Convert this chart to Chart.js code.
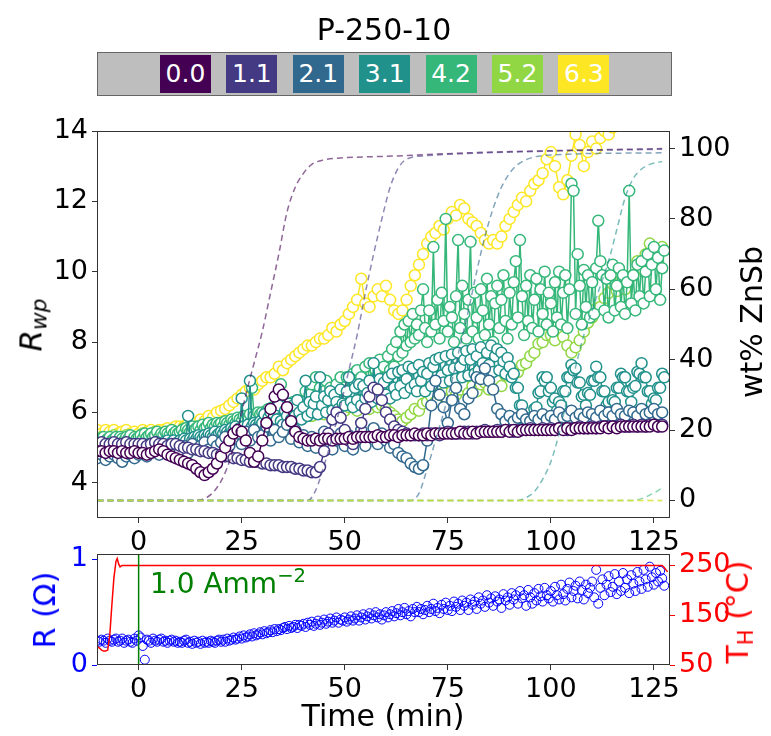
<!DOCTYPE html>
<html>
<head>
<meta charset="utf-8">
<title>P-250-10</title>
<script src="https://cdn.jsdelivr.net/npm/chart.js@4.4.0/dist/chart.umd.min.js"></script>
<style>
  body { margin: 0; background: #fff; font-family: 'DejaVu Sans', sans-serif; }
  #wrap { position: relative; width: 771px; height: 736px; overflow: hidden; }
  canvas { position: absolute; left: 0; }
  .lbl { position: absolute; white-space: nowrap; line-height: 1; }
  .ctr { transform: translate(-50%, -50%); }
  .rot { transform: translate(-50%, -50%) rotate(-90deg); }
  #bar { position: absolute; left: 97px; top: 52px; width: 575px; height: 44px;
         box-sizing: border-box; background: #bebebe; border: 1.5px solid #666; }
  .box { position: absolute; top: 2px; height: 38px; width: 51px; color: #fff;
         font-size: 25px; line-height: 38px; text-align: center; }
  sub { font-size: 70%; vertical-align: -0.25em; }
  sup { font-size: 70%; vertical-align: 0.55em; }
</style>
</head>
<body>
<div id="wrap">
  <canvas id="rwpChart" width="771" height="560" style="top:0"></canvas>
  <canvas id="resChart" width="771" height="236" style="top:500px"></canvas>

  <div class="lbl ctr" style="left:384px; top:30px; font-size:30px;">P-250-10</div>
  <div id="bar"></div>

  <div class="lbl rot" style="left:33px; top:325px; font-size:31px;"><i>R</i><sub><i>wp</i></sub></div>
  <div class="lbl rot" style="left:752px; top:322px; font-size:30px;">wt% ZnSb</div>
  <div class="lbl rot" style="left:45px; top:610px; font-size:30px; color:#0000ff;">R (Ω)</div>
  <div class="lbl rot" style="left:740px; top:612px; font-size:30px; color:#ff0000;">T<sub>H</sub> (°C)</div>
  <div class="lbl ctr" style="left:383px; top:716px; font-size:30px;">Time (min)</div>
  <div class="lbl" style="left:150px; top:566px; font-size:28px; color:#008000;">1.0 Amm<sup>−2</sup></div>
</div>

<script>
// probe positions (mm) and their viridis colours
var probePos = ['0.0', '1.1', '2.1', '3.1', '4.2', '5.2', '6.3'];
var probeColors = ['#440154', '#443983', '#31688e', '#21918c', '#35b779', '#90d743', '#fde725'];

// Rwp from -10 min; most probes once a minute, 3.1 and 4.2 every half minute
var rwpStart = -10;
var rwpSteps = [1, 1, 1, 0.5, 0.5, 1, 1];
var rwp00 = [4.9,4.9,4.85,4.9,4.9,4.85,4.9,4.85,4.85,4.9,
  4.85,4.85,4.8,4.85,4.9,4.95,4.9,4.8,4.75,4.7,
  4.65,4.6,4.55,4.5,4.4,4.3,4.22,4.3,4.4,4.55,
  4.75,5.0,5.2,5.4,5.5,5.45,5.2,4.85,4.6,4.75,
  5.2,5.7,6.1,6.45,6.65,6.5,6.15,5.75,5.45,5.3,
  5.25,5.2,5.2,5.25,5.2,5.25,5.25,5.2,5.25,5.25,
  5.25,5.3,5.25,5.3,5.3,5.3,5.3,5.3,5.35,5.3,
  5.3,5.35,5.35,5.3,5.35,5.35,5.35,5.4,5.35,5.35,
  5.4,5.35,5.4,5.4,5.4,5.4,5.4,5.4,5.45,5.4,
  5.4,5.45,5.4,5.45,5.45,5.45,5.45,5.45,5.45,5.5,
  5.45,5.5,5.45,5.5,5.5,5.5,5.5,5.5,5.5,5.5,
  5.5,5.5,5.55,5.5,5.55,5.5,5.55,5.55,5.55,5.55,
  5.55,5.55,5.55,5.6,5.55,5.6,5.55,5.6,5.6,5.6,
  5.6,5.6,5.6,5.6,5.6,5.65,5.6,5.6];
var rwp11 = [5.1,5.15,5.1,5.1,5.15,5.1,5.1,5.15,5.1,5.1,
  5.1,5.1,5.05,5.1,5.15,5.1,5.1,5.05,5.1,5.1,
  5.05,5.0,5.0,4.95,4.95,4.9,4.9,4.85,4.85,4.8,
  4.8,4.75,4.75,4.7,4.7,4.65,4.65,4.6,4.6,4.6,
  4.55,4.55,4.5,4.5,4.5,4.45,4.45,4.45,4.4,4.4,
  4.35,4.35,4.3,4.3,4.45,4.9,5.4,5.8,6.0,5.85,
  5.5,5.2,5.1,5.3,5.7,6.1,6.45,6.7,6.65,6.35,
  6.0,5.8,5.6,5.5,5.45,5.4,5.35,5.35,5.35,5.4,
  5.35,5.4,5.4,5.35,5.4,5.45,5.4,5.4,5.4,5.45,
  5.45,5.4,5.45,5.45,5.5,5.45,5.45,5.5,5.45,5.5,
  5.5,5.45,5.5,5.5,5.5,5.55,5.5,5.5,5.55,5.5,
  5.55,5.5,5.55,5.55,5.5,5.55,5.55,5.6,5.55,5.55,
  5.6,5.55,5.6,5.6,5.6,5.6,5.6,5.65,5.6,5.6,
  5.65,5.6,5.65,5.6,5.65,5.65,5.6,5.65];
var rwp21 = [4.7,4.8,4.65,4.75,4.8,4.7,4.6,4.75,4.8,4.7,
  4.8,4.9,4.75,4.85,4.95,4.8,4.9,5.0,4.85,4.95,
  4.9,5.05,4.85,5.1,4.95,5.05,5.15,4.95,5.2,5.05,
  5.15,5.3,5.05,5.25,5.4,5.1,5.45,5.2,5.5,5.3,
  5.35,5.6,5.2,5.5,5.3,5.45,5.65,5.25,5.5,5.15,
  5.35,5.05,5.3,5.0,5.25,5.45,5.1,4.95,5.2,5.4,
  5.05,5.35,4.95,5.2,5.5,5.05,5.3,5.55,5.1,5.4,
  5.2,5.0,5.1,4.85,4.75,4.7,4.55,4.45,4.4,4.5,
  5.2,6.2,6.9,6.5,6.15,5.7,6.35,6.7,6.1,5.95,
  6.4,6.55,7.0,6.95,7.25,6.9,6.65,6.1,5.95,5.75,
  5.9,5.75,5.85,5.95,5.8,5.75,5.9,5.8,5.95,5.8,
  5.9,5.8,6.0,5.85,5.9,6.05,5.85,5.95,5.85,6.0,
  5.95,5.85,6.05,5.9,6.0,5.9,6.1,5.95,5.9,6.05,
  6.0,5.9,6.1,5.95,6.0,6.1,5.95,6.0];
var rwp31 = [5.0,5.05,4.95,5.0,5.05,5.0,4.95,5.05,5.0,4.95,5.0,5.05,5.0,4.95,5.0,5.05,5.0,4.95,5.0,5.05,
  5.0,5.05,5.1,5.0,5.05,5.1,5.05,5.0,5.1,5.15,5.05,5.1,5.15,5.1,5.2,5.1,5.15,5.2,5.1,5.15,
  5.2,5.15,5.25,5.2,5.9,5.25,5.2,5.3,5.25,5.35,5.3,5.25,5.35,5.3,5.4,5.35,5.3,5.45,5.35,5.4,
  5.45,5.4,5.5,5.45,5.4,5.55,5.5,5.6,5.45,5.55,6.4,5.6,5.5,5.65,6.9,5.6,5.7,5.65,5.6,5.75,
  5.7,5.95,5.55,5.85,6.0,5.6,6.1,5.8,6.2,5.75,5.65,6.05,5.9,6.25,5.8,6.2,5.9,6.35,6.0,5.8,
  6.15,6.9,5.9,6.3,6.0,6.25,6.45,5.95,7.0,6.2,6.45,6.0,6.35,6.6,6.05,6.5,6.3,6.1,6.65,6.25,
  6.2,6.6,7.0,6.3,6.15,6.7,6.35,6.8,6.2,6.75,6.4,6.55,6.9,6.3,7.4,6.65,6.4,6.95,6.5,6.85,
  6.5,7.0,6.4,7.1,6.7,6.5,7.15,6.75,7.2,6.55,6.95,7.3,6.7,7.25,6.8,6.6,7.35,6.9,7.15,6.6,
  7.1,7.4,6.75,7.3,7.5,6.9,7.55,7.05,6.85,7.6,7.2,6.9,7.65,7.25,6.95,7.7,7.3,7.0,7.5,7.75,
  7.05,7.5,7.8,7.1,7.6,7.2,7.85,7.4,7.05,7.7,7.35,7.9,7.15,7.6,7.8,7.2,7.7,7.45,7.1,7.55,
  7.3,7.0,7.1,6.7,6.7,6.2,6.2,5.8,5.85,5.6,5.8,5.75,6.1,6.15,6.55,6.6,7.0,6.9,7.0,6.6,
  6.7,6.3,6.4,6.05,6.3,6.2,6.6,6.6,7.0,7.0,7.35,7.2,7.25,6.85,6.85,6.45,6.5,6.2,6.55,6.5,
  6.9,6.9,7.3,7.0,7.0,6.6,6.6,6.2,6.3,6.0,6.35,6.3,6.7,6.7,7.1,7.0,7.0,6.6,6.6,6.3,
  6.7,6.75,7.15,7.1,7.4,7.0,7.0,6.6,6.6,6.25,6.4,6.35,6.7,6.7,7.1,7.0];
var rwp42 = [5.2,5.25,5.15,5.3,5.2,5.25,5.3,5.2,5.25,5.3,5.2,5.3,5.25,5.2,5.3,5.25,5.35,5.2,5.3,5.25,
  5.3,5.35,5.25,5.4,5.3,5.35,5.4,5.3,5.35,5.45,5.3,5.4,5.35,5.45,5.4,5.35,5.5,5.4,5.45,5.4,
  5.45,5.5,5.4,5.55,5.5,5.45,5.6,5.5,5.55,5.6,5.5,5.65,5.55,5.6,5.7,5.55,5.65,5.6,5.7,5.65,
  5.7,5.6,5.75,5.7,5.65,5.8,5.75,5.7,5.85,5.8,5.75,5.9,5.8,5.85,5.95,6.7,5.9,5.85,6.0,5.95,
  6.0,5.9,6.05,6.1,5.95,6.15,6.05,6.2,6.1,6.8,6.15,6.05,6.25,6.2,6.1,6.3,6.2,6.35,6.25,6.15,
  6.3,6.6,6.1,6.5,6.8,6.2,7.0,6.4,6.7,6.2,6.6,6.9,6.3,6.7,6.5,6.2,6.8,6.5,7.0,6.4,
  6.6,7.0,6.4,6.9,7.1,6.5,7.2,6.7,7.0,6.6,7.3,6.8,7.4,6.9,6.6,7.2,6.8,7.5,6.9,7.3,
  7.0,7.6,7.2,7.8,7.3,8.0,7.6,8.3,7.7,8.5,7.9,8.6,8.0,8.8,8.1,8.5,8.2,8.9,9.5,8.4,
  8.0,8.9,8.3,10.7,8.5,9.2,8.1,9.4,8.6,11.5,8.3,9.0,8.7,8.0,9.3,10.9,8.4,9.6,8.8,8.1,
  9.2,10.85,8.3,9.4,8.7,8.1,9.5,8.9,8.2,9.8,8.5,9.3,8.0,9.1,9.6,8.4,9.2,9.9,8.6,8.1,
  9.4,8.5,9.7,10.3,8.7,10.9,9.3,8.2,9.6,8.6,9.9,8.4,9.2,9.8,8.3,9.5,8.8,10.0,8.5,9.4,
  9.1,8.3,9.7,8.7,10.0,8.5,9.4,9.9,8.4,9.5,12.5,12.3,8.8,10.5,9.6,8.5,10.05,9.0,9.9,8.7,
  9.7,8.8,10.1,11.45,10.3,9.9,8.9,9.8,8.7,9.9,10.2,8.9,9.6,10.1,9.0,9.9,8.8,9.7,12.3,9.1,
  9.9,8.9,10.2,9.3,10.3,9.1,10.0,10.5,9.3,10.2,10.7,9.5,10.4,9.2,10.1,10.6];
var rwp52 = [5.25,5.3,5.2,5.3,5.35,5.25,5.3,5.35,5.2,5.3,
  5.3,5.4,5.25,5.35,5.45,5.3,5.4,5.45,5.4,5.35,
  5.45,5.55,5.4,5.5,5.6,5.45,5.55,5.65,5.5,5.6,
  5.6,5.7,5.55,5.7,5.65,5.75,5.8,5.65,5.75,5.85,
  5.75,5.85,5.9,5.75,5.9,5.95,5.8,5.9,6.0,5.85,
  5.95,6.05,5.9,6.05,6.1,5.95,6.1,6.15,6.0,6.15,
  6.05,6.15,6.2,6.05,6.2,6.25,6.1,6.25,6.15,6.2,
  6.1,6.0,5.9,5.8,5.75,5.85,5.95,6.1,6.05,6.25,
  6.3,6.45,6.3,6.5,6.55,6.35,6.6,6.5,6.65,6.75,
  6.55,6.75,6.6,6.8,6.85,6.65,6.9,6.95,6.75,7.05,
  7.05,7.2,7.15,7.35,7.4,7.6,7.7,7.95,8.0,8.2,
  8.2,8.05,8.35,8.15,7.9,7.7,7.85,8.05,8.3,8.55,
  8.7,8.95,9.0,9.25,9.4,9.65,9.45,9.75,9.5,9.85,
  9.9,10.3,10.1,10.5,10.8,10.6,10.3,10.7];
var rwp63 = [5.5,5.4,5.5,5.45,5.5,5.4,5.45,5.5,5.4,5.45,
  5.4,5.5,5.45,5.5,5.4,5.5,5.5,5.55,5.5,5.6,
  5.6,5.6,5.7,5.65,5.7,5.8,5.75,5.9,5.85,6.0,
  6.05,6.1,6.2,6.3,6.4,6.5,6.6,6.7,6.65,6.8,
  6.9,7.0,7.0,7.1,7.3,7.2,7.4,7.5,7.6,7.7,
  7.8,7.9,7.9,8.0,8.1,8.1,8.2,8.4,8.3,8.5,
  8.6,8.8,9.0,9.2,9.8,9.1,9.0,9.3,9.5,9.3,
  9.6,9.2,8.9,8.8,8.9,9.2,9.6,9.9,10.2,10.5,
  10.8,11.0,11.1,11.3,11.2,11.5,11.7,11.6,11.9,11.8,
  11.5,11.4,11.3,11.1,10.9,10.8,10.9,10.8,11.0,11.3,
  11.5,11.7,11.9,12.1,12.0,12.3,12.5,12.6,12.8,13.2,
  13.4,13.0,12.4,12.2,12.6,13.3,13.9,13.6,13.0,13.4,
  13.7,13.5,13.8,14.0,13.9,14.1,14.4,14.8,15.2,15.5,
  15.7,16.0,16.2,16.5,16.8,17.0,17.2,17.4];
var rwpSeries = [rwp00, rwp11, rwp21, rwp31, rwp42, rwp52, rwp63];

// wt% ZnSb fits, [time, wt%]
var wt00 = [[-10,0],[14,0],[16,0.5],[18,2.2],[20,5.5],[22,11],[24,20],[26,30],[28,39],[30,48],[32,59],[34,70],[36,82],[38,89],[40,93],[42,95.5],[45,96.8],[50,97.4],[60,97.8],[80,98.8],[100,99.4],[127,100]];
var wt11 = [[-10,0],[41,0],[43,3],[45,10],[47,18],[49,27],[51,37],[53,47],[55,59],[57,70],[59,80],[61,89],[63,94.5],[65,97],[70,98],[80,98.6],[100,99.3],[127,99.8]];
var wt21 = [[-10,0],[66,0],[68,2],[70,9],[72,17],[74,25],[76,34],[78,44],[80,54],[82,65],[84,75],[86,83],[88,89],[90,93],[92,95.5],[95,97.3],[100,98.2],[127,98.8]];
var wt31 = [[-10,0],[92,0],[94,0.8],[96,2.5],[98,6],[100,11],[102,19],[104,29],[106,38],[108,47],[110,54],[112,61],[114,68],[116,77],[118,86],[120,91.5],[122,94.2],[124,95.5],[127,96.3]];
var wt42 = [[-10,0],[120,0],[122,0.5],[124,1.5],[126,2.8],[127,3.6]];
var wt52 = [[-10,0],[127,0]];
var wt63 = [[-10,0],[127,0]];
var wtSeries = [wt00, wt11, wt21, wt31, wt42, wt52, wt63];

// sample resistance, every half minute from -10 min
var resStart = -10, resStep = 0.5;
var resOhm = [0.23,0.22,0.24,0.23,0.21,0.25,0.23,0.22,0.24,0.25,0.22,0.23,0.25,0.21,0.23,0.24,0.22,0.21,0.25,0.23,
  0.28,0.26,0.18,0.05,0.24,0.23,0.21,0.25,0.23,0.22,0.24,0.25,0.22,0.23,0.21,0.23,0.24,0.22,0.23,0.21,
  0.22,0.21,0.23,0.24,0.21,0.22,0.20,0.23,0.21,0.22,0.20,0.23,0.21,0.22,0.21,0.23,0.22,0.21,0.23,0.24,
  0.22,0.24,0.22,0.25,0.23,0.24,0.26,0.24,0.25,0.27,0.25,0.28,0.26,0.27,0.29,0.27,0.30,0.28,0.29,0.31,
  0.29,0.32,0.30,0.31,0.33,0.31,0.34,0.32,0.34,0.33,0.35,0.36,0.34,0.37,0.35,0.36,0.38,0.35,0.38,0.37,
  0.39,0.36,0.40,0.38,0.41,0.37,0.39,0.42,0.38,0.40,0.43,0.39,0.41,0.44,0.40,0.42,0.45,0.40,0.43,0.42,
  0.45,0.41,0.43,0.46,0.42,0.44,0.47,0.42,0.45,0.48,0.43,0.46,0.49,0.44,0.47,0.50,0.45,0.48,0.43,0.47,
  0.50,0.45,0.48,0.51,0.46,0.49,0.53,0.47,0.50,0.54,0.48,0.51,0.46,0.53,0.50,0.55,0.50,0.53,0.48,0.52,
  0.56,0.50,0.53,0.58,0.51,0.54,0.49,0.57,0.53,0.59,0.52,0.56,0.51,0.60,0.55,0.58,0.52,0.61,0.56,0.59,
  0.52,0.62,0.57,0.60,0.53,0.64,0.58,0.61,0.55,0.66,0.59,0.63,0.56,0.65,0.60,0.62,0.54,0.67,0.61,0.64,
  0.57,0.68,0.62,0.66,0.58,0.70,0.63,0.66,0.56,0.71,0.64,0.58,0.68,0.61,0.72,0.65,0.60,0.73,0.66,0.63,
  0.70,0.60,0.74,0.66,0.62,0.76,0.67,0.61,0.72,0.78,0.64,0.70,0.75,0.63,0.79,0.71,0.62,0.76,0.68,0.73,
  0.79,0.64,0.90,0.58,0.73,0.81,0.66,0.76,0.84,0.69,0.74,0.86,0.67,0.79,0.70,0.87,0.73,0.81,0.68,0.85,
  0.77,0.70,0.88,0.79,0.72,0.90,0.81,0.74,0.93,0.83,0.76,0.87,0.79,0.89,0.82,0.75];

// heater temperature
var heatTime = [-10,-9.5,-9,-8.5,-8,-7.5,-7,-6.5,-6,-5.5,-5.2,-4.8,-4.5,-4,20,60,100,127,127.5,128.3];
var heatTemp = [87,84,80,78,78,80,110,170,225,258,264,252,247,250,250,250,250,250,246,237];

var currentOn = 0;      // min, current switched on
var timeTicks = [0, 25, 50, 75, 100, 125];
var rwpTicks = [4, 6, 8, 10, 12, 14];
var wtTicks = [0, 20, 40, 60, 80, 100];
var resTicks = [0, 1];
var heatTicks = [50, 150, 250];

Chart.defaults.font.family = "'DejaVu Sans', sans-serif";
Chart.defaults.font.size = 27;
Chart.defaults.color = '#000';

// colour bar of probe positions
var bar = document.getElementById('bar');
probePos.forEach(function (p, i) {
  var b = document.createElement('div');
  b.className = 'box';
  b.style.left = (62 + i * 66.4) + 'px';
  b.style.background = probeColors[i];
  b.textContent = p;
  bar.appendChild(b);
});

function fade(hex, a) {
  var n = parseInt(hex.slice(1), 16);
  return 'rgba(' + (n >> 16) + ',' + ((n >> 8) & 255) + ',' + (n & 255) + ',' + a + ')';
}
function sampled(vals, start, step) {
  return vals.map(function (v, i) { return { x: start + i * step, y: v }; });
}
function fixTicks(vals) {
  return function (scale) { scale.ticks = vals.map(function (v) { return { value: v }; }); };
}

var framePlugin = {
  id: 'frame',
  afterDatasetsDraw: function (chart) {
    var a = chart.chartArea, ctx = chart.ctx;
    ctx.save();
    ctx.strokeStyle = '#333';
    ctx.lineWidth = 1;
    ctx.strokeRect(Math.round(a.left) + 0.5, Math.round(a.top) + 0.5,
      Math.round(a.right - a.left) - 1, Math.round(a.bottom - a.top) - 1);
    ctx.restore();
  }
};

function axis(opts, ticks, color) {
  var o = {
    type: 'linear',
    grid: { drawOnChartArea: false, drawTicks: true, tickLength: 5, tickColor: color || '#333', tickWidth: 1 },
    border: { display: false },
    ticks: { color: color || '#000', padding: 4, maxRotation: 0, minRotation: 0, autoSkip: false },
    afterBuildTicks: fixTicks(ticks)
  };
  for (var k in opts) o[k] = opts[k];
  return o;
}

// ---- top chart: Rwp + wt% ZnSb
var ds = [];
wtSeries.forEach(function (w, i) {
  ds.push({
    data: w.map(function (p) { return { x: p[0], y: p[1] }; }),
    yAxisID: 'y2',
    borderColor: fade(probeColors[i], 0.6),
    borderWidth: 1.5,
    borderDash: [6, 4],
    pointRadius: 0,
    cubicInterpolationMode: 'monotone',
    clip: 0,
    order: -i
  });
});
rwpSeries.forEach(function (r, i) {
  ds.push({
    data: sampled(r, rwpStart, rwpSteps[i]),
    yAxisID: 'y',
    borderColor: probeColors[i],
    borderWidth: 1.5,
    pointRadius: 5.5,
    pointBorderWidth: 1.5,
    pointBackgroundColor: '#fff',
    pointBorderColor: probeColors[i],
    clip: 0,
    order: 10 + i
  });
});

new Chart(document.getElementById('rwpChart'), {
  type: 'line',
  data: { datasets: ds },
  options: {
    responsive: false, animation: false, events: [],
    layout: { padding: { top: 131, left: 0, right: 0, bottom: 0 } },
    plugins: { legend: { display: false }, tooltip: { enabled: false } },
    scales: {
      x: axis({ min: -10.1, max: 128.9, afterFit: function (s) { s.height = 42; } }, timeTicks),
      y: axis({ position: 'left', min: 3, max: 14, afterFit: function (s) { s.width = 97; } }, rwpTicks),
      y2: axis({ position: 'right', min: -5, max: 105, afterFit: function (s) { s.width = 101; } }, wtTicks)
    }
  },
  plugins: [framePlugin]
});

// ---- bottom chart: resistance + heater temperature
new Chart(document.getElementById('resChart'), {
  type: 'line',
  data: {
    datasets: [
      {
        data: [{ x: currentOn, y: 0 }, { x: currentOn, y: 1.05 }],
        yAxisID: 'y', borderColor: '#008000', borderWidth: 1.5, pointRadius: 0, clip: 0, order: 0
      },
      {
        data: heatTime.map(function (t, i) { return { x: t, y: heatTemp[i] }; }),
        yAxisID: 'y2', borderColor: '#ff0000', borderWidth: 1.5, pointRadius: 0, clip: 0, order: 1
      },
      {
        data: sampled(resOhm, resStart, resStep),
        yAxisID: 'y', showLine: false, borderColor: '#0000ff',
        pointRadius: 4.5, pointBorderWidth: 1, pointBorderColor: '#0000ff',
        pointBackgroundColor: 'rgba(0,0,0,0)', clip: 0, order: 2
      }
    ]
  },
  options: {
    responsive: false, animation: false, events: [],
    layout: { padding: { top: 54, left: 0, right: 0, bottom: 0 } },
    plugins: { legend: { display: false }, tooltip: { enabled: false } },
    scales: {
      x: axis({ min: -10.1, max: 128.9, afterFit: function (s) { s.height = 71; } }, timeTicks),
      y: axis({ position: 'left', min: 0, max: 1.05, afterFit: function (s) { s.width = 97; } }, resTicks, '#0000ff'),
      y2: axis({ position: 'right', min: 50, max: 273, afterFit: function (s) { s.width = 101; } }, heatTicks, '#ff0000')
    }
  },
  plugins: [framePlugin]
});
</script>
</body>
</html>
